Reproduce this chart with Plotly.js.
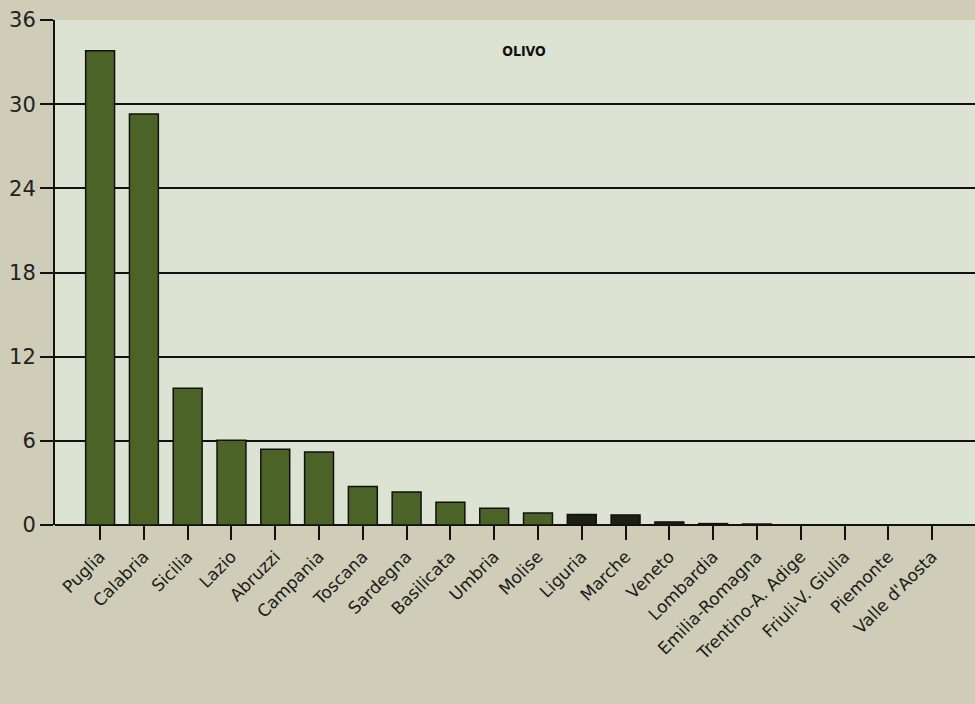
<!DOCTYPE html>
<html>
<head>
<meta charset="utf-8">
<script src="https://cdn.plot.ly/plotly-3.0.1.min.js"></script>
<style>
html,body{margin:0;padding:0;background:#cfccb7;}
#chart{width:975px;height:704px;}
</style>
</head>
<body>
<div id="chart"></div>
<script>
// Data
const regions = ["Puglia","Calabria","Sicilia","Lazio","Abruzzi","Campania","Toscana","Sardegna","Basilicata","Umbria","Molise","Liguria","Marche","Veneto","Lombardia","Emilia-Romagna","Trentino-A. Adige","Friuli-V. Giulia","Piemonte","Valle d'Aosta"];
const values = [33.8, 29.3, 9.75, 6.05, 5.4, 5.2, 2.75, 2.35, 1.62, 1.2, 0.85, 0.75, 0.72, 0.22, 0.1, 0.07, 0.02, 0, 0, 0];
const yTicks = [0, 6, 12, 18, 24, 30, 36];
const chartTitle = "OLIVO";

// styles
const green = "#4b6327";
const dark = "#1c1f12";
const barColors = regions.map((r, i) => (i >= 11 ? dark : green));

const trace = {
  type: "bar",
  x: regions,
  y: values,
  width: 0.66,
  marker: { color: barColors, line: { color: "#111", width: 1.5 } },
  hoverinfo: "x+y"
};

const layout = {
  width: 975,
  height: 704,
  margin: { l: 55, r: 0, t: 20, b: 179, pad: 0 },
  paper_bgcolor: "#cfccb7",
  plot_bgcolor: "#dde3d2",
  showlegend: false,
  bargap: 0.34,
  title: {
    text: "<b>" + chartTitle + "</b>",
    x: 524 / 975, xanchor: "center", xref: "container",
    y: 1 - 51 / 704, yanchor: "middle", yref: "container",
    font: { family: "DejaVu Sans Condensed, DejaVu Sans", size: 14, color: "#111" }
  },
  xaxis: {
    type: "category",
    range: [-1.03, 19.98],
    tickangle: -45,
    ticks: "outside",
    ticklen: 14,
    tickwidth: 2,
    tickcolor: "#111",
    showgrid: false,
    showline: false,
    tickfont: { family: "DejaVu Sans", size: 17, color: "#1a1a1a" },
    automargin: false
  },
  yaxis: {
    range: [0, 36],
    tickvals: yTicks,
    ticktext: yTicks.map(String),
    ticks: "outside",
    ticklen: 13,
    tickwidth: 2,
    tickcolor: "#111",
    showgrid: true,
    gridcolor: "#111",
    gridwidth: 2,
    zeroline: true,
    zerolinecolor: "#111",
    zerolinewidth: 2,
    showline: true,
    linecolor: "#111",
    linewidth: 2,
    tickfont: { family: "DejaVu Sans", size: 21, color: "#222" },
    automargin: false
  }
};

Plotly.newPlot("chart", [trace], layout, { displayModeBar: false, staticPlot: true });
</script>
</body>
</html>
